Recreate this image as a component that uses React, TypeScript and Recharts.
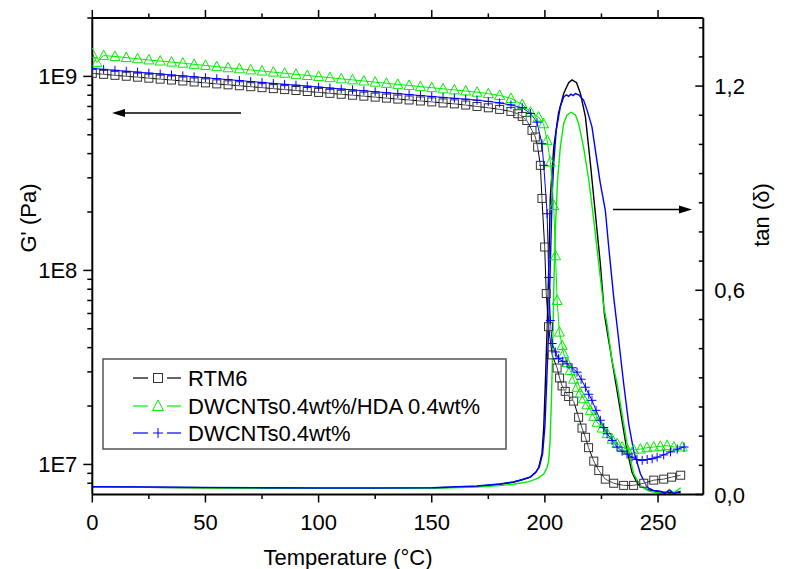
import React from 'react';
import { ComposedChart, Line, XAxis, YAxis } from 'recharts';

const FONT = '"Liberation Sans", Arial, Helvetica, sans-serif';

// ---------- G' (Pa) vs temperature (°C) ----------
const rtm6GT = [0,5,10,15,20,25,30,35,40,45,50,55,60,65,70,75,80,85,90,95,100,105,110,115,120,125,130,135,140,145,150,155,160,165,170,175,180,185,188,190,192,194.3,195.8,196.8,198,198.7,199.9,200.6,201.6,203.2,205.4,206.5,207.6,209,210.5,212.7,214.9,216.4,217.9,219.3,221.6,223.8,226.7,230.4,234.8,239.2,243.7,248.1,252.5,256,260];
const rtm6GV = [1.036e9,1.025e9,1.013e9,1.002e9,9.91e8,9.79e8,9.68e8,9.58e8,9.47e8,9.36e8,9.26e8,9.15e8,9.05e8,8.95e8,8.85e8,8.75e8,8.65e8,8.55e8,8.46e8,8.36e8,8.27e8,8.18e8,8.09e8,8.0e8,7.91e8,7.82e8,7.73e8,7.64e8,7.56e8,7.47e8,7.39e8,7.3e8,7.22e8,7.12e8,7.0e8,6.89e8,6.76e8,6.6e8,6.42e8,6.22e8,5.93e8,5.27e8,4.87e8,4.32e8,3.48e8,2.35e8,1.32e8,7.6e7,5.13e7,3.67e7,3.14e7,2.79e7,2.54e7,2.38e7,2.24e7,2.12e7,1.75e7,1.54e7,1.38e7,1.22e7,1.04e7,9.3e6,8.4e6,8.0e6,7.8e6,7.8e6,8.0e6,8.3e6,8.4e6,8.6e6,8.8e6];

const hdaGT = [0,2,5,10,15,20,25,30,35,40,45,50,55,60,65,70,75,80,85,90,95,100,105,110,115,120,125,130,135,140,145,150,155,160,165,170,175,180,185,190,193.7,197.2,199.4,201,202.4,203.9,204.7,205.4,206.4,207.6,208.3,209.8,211.2,212.7,214.2,215.6,217.1,218.6,220.1,221.6,223.1,225.3,227.5,229.7,231.9,234.1,236.3,239.2,242.2,245.1,248.1,251,254,257,260.7];
const hdaGV = [1.31e9,1.18e9,1.28e9,1.267e9,1.25e9,1.233e9,1.216e9,1.2e9,1.185e9,1.17e9,1.154e9,1.139e9,1.123e9,1.108e9,1.094e9,1.08e9,1.066e9,1.052e9,1.038e9,1.025e9,1.011e9,9.98e8,9.85e8,9.72e8,9.6e8,9.47e8,9.34e8,9.21e8,9.1e8,8.98e8,8.86e8,8.75e8,8.63e8,8.52e8,8.41e8,8.29e8,8.15e8,7.98e8,7.7e8,7.17e8,6.55e8,6.17e8,5.7e8,4.68e8,3.62e8,2.16e8,1.19e8,7.0e7,4.81e7,4.1e7,3.72e7,3.35e7,3.05e7,2.75e7,2.5e7,2.33e7,2.18e7,2.03e7,1.9e7,1.77e7,1.65e7,1.54e7,1.44e7,1.35e7,1.28e7,1.23e7,1.2e7,1.19e7,1.2e7,1.22e7,1.23e7,1.24e7,1.25e7,1.23e7,1.23e7];

const dwGT = [0,5,10,15,20,25,30,35,40,45,50,55,60,65,70,75,80,85,90,95,100,105,110,115,120,125,130,135,140,145,150,155,160,165,170,175,180,185,190,193.6,196.5,198.7,199.5,201,201.7,202.4,203.2,204.6,206,207.9,209.8,212,214.2,216,217.9,219.4,220.8,222.6,224.5,226,227.5,229.7,231.9,234.1,236.3,238.5,240.7,243,245.2,247.4,249.6,252.5,255.5,258.5,261.5];
const dwGV = [1.1e9,1.087e9,1.075e9,1.063e9,1.052e9,1.04e9,1.029e9,1.017e9,1.006e9,9.95e8,9.84e8,9.73e8,9.63e8,9.52e8,9.41e8,9.31e8,9.2e8,9.1e8,9.01e8,8.91e8,8.81e8,8.71e8,8.61e8,8.52e8,8.43e8,8.33e8,8.24e8,8.15e8,8.06e8,7.97e8,7.88e8,7.79e8,7.71e8,7.63e8,7.54e8,7.43e8,7.3e8,7.13e8,6.9e8,6.44e8,5.81e8,4.5e8,3.48e8,1.96e8,9.2e7,5.52e7,4.2e7,3.8e7,3.51e7,3.4e7,3.3e7,3.15e7,2.99e7,2.75e7,2.5e7,2.3e7,2.14e7,1.9e7,1.69e7,1.55e7,1.44e7,1.33e7,1.23e7,1.17e7,1.13e7,1.09e7,1.06e7,1.05e7,1.06e7,1.07e7,1.09e7,1.12e7,1.16e7,1.2e7,1.23e7];

// ---------- tan(delta) vs temperature (°C) ----------
const rtm6TanT = [0,25,50,75,100,125,150,170,180,186,190,193.6,196,197.3,198.7,199.5,200.2,201,201.7,202.4,203.9,206,208.3,210.5,212,214,215.7,217.9,220.1,222.3,224.5,226.3,228,230,233,236,238.5,241,245,250,255,260];
const rtm6TanV = [0.022,0.021,0.02,0.019,0.018,0.018,0.019,0.024,0.03,0.036,0.043,0.051,0.065,0.08,0.12,0.198,0.326,0.49,0.668,0.874,1.02,1.12,1.178,1.21,1.218,1.21,1.178,1.11,0.973,0.826,0.678,0.53,0.46,0.38,0.26,0.14,0.065,0.03,0.015,0.008,0.005,0.006];

const hdaTanT = [0,25,50,75,100,125,150,170,180,186,193,197,199.5,201,201.7,202.3,202.9,203.5,203.9,204.6,205.6,206.8,208.3,209.8,211.6,213.5,214.9,217.1,219.4,221.6,223.8,226,227.5,229.5,231.9,236.3,239.2,242.2,246,250,253,255,257,260];
const hdaTanV = [0.022,0.021,0.02,0.019,0.018,0.018,0.018,0.022,0.026,0.03,0.038,0.048,0.06,0.08,0.1,0.16,0.28,0.45,0.6,0.776,0.924,1.02,1.09,1.115,1.123,1.115,1.09,1.02,0.924,0.806,0.678,0.551,0.5,0.4,0.326,0.149,0.061,0.026,0.01,0.005,0.002,0.015,0.005,0.02];

const dwTanT = [0,25,50,75,100,125,150,170,180,186,190,193.6,196,197.5,199,200,200.8,201.7,202.4,203.2,203.9,205,206.8,208.3,209.5,210.5,211.5,212.5,213.5,215,217.1,218.6,220.8,223,224.5,226.7,228.2,230.4,232,234.8,237,239.2,242.2,245.2,248,251,253,255,257,260];
const dwTanV = [0.023,0.022,0.021,0.02,0.019,0.019,0.02,0.025,0.031,0.037,0.044,0.052,0.066,0.08,0.12,0.2,0.33,0.49,0.678,0.874,0.973,1.07,1.139,1.168,1.174,1.17,1.176,1.172,1.178,1.174,1.159,1.13,1.08,0.98,0.914,0.835,0.727,0.58,0.49,0.326,0.21,0.129,0.061,0.021,0.012,0.01,0.004,0.012,0.003,0.01];

// ---------- axes ----------
const xTicks = [0,25,50,75,100,125,150,175,200,225,250];
const xLabeled = [0,50,100,150,200,250];
const gTicks = [8e6,9e6,1e7,2e7,3e7,4e7,5e7,6e7,7e7,8e7,9e7,1e8,2e8,3e8,4e8,5e8,6e8,7e8,8e8,9e8,1e9,2e9];
const gLabeled: Record<string, string> = { '10000000': '1E7', '100000000': '1E8', '1000000000': '1E9' };
const tanMajor = [0, 0.6, 1.2];
const tanTicks = Array.from({ length: 17 }, (_, k) => (k * 0.6) / 7);

const seriesNames = ['RTM6', 'DWCNTs0.4wt%/HDA 0.4wt%', 'DWCNTs0.4wt%'];

const BLACK = '#000000';
const GREEN = '#00ee00';
const BLUE = '#0000ff';

const toRows = (ts: number[], vs: number[]) => ts.map((T, i) => ({ T, v: vs[i] }));
const rtm6G = toRows(rtm6GT, rtm6GV);
const hdaG = toRows(hdaGT, hdaGV);
const dwG = toRows(dwGT, dwGV);
const rtm6Tan = toRows(rtm6TanT, rtm6TanV);
const hdaTan = toRows(hdaTanT, hdaTanV);
const dwTan = toRows(dwTanT, dwTanV);

const squareDot = (p: any) => (
  <rect key={`sq${p.index}`} x={p.cx - 4} y={p.cy - 4} width={8} height={8} fill="#ffffff" fillOpacity={0.3} stroke="#333" strokeWidth={1} />
);
const triDot = (p: any) => (
  <polygon key={`tr${p.index}`} points={`${p.cx},${p.cy - 5.5} ${p.cx - 5},${p.cy + 4} ${p.cx + 5},${p.cy + 4}`} fill="none" stroke={GREEN} strokeWidth={1} />
);
const plusDot = (p: any) => (
  <path key={`pl${p.index}`} d={`M${p.cx - 4.5},${p.cy}H${p.cx + 4.5}M${p.cx},${p.cy - 4.5}V${p.cy + 4.5}`} stroke={BLUE} strokeWidth={1} fill="none" />
);

const txt = { fontFamily: FONT, fontSize: 22, fill: '#000' } as const;

const XTick = (p: any) => {
  const v = p.payload.value;
  const major = xLabeled.includes(v);
  return (
    <g>
      <line x1={p.x} x2={p.x} y1={p.y} y2={p.y + (major ? 8 : 4.5)} stroke="#000" strokeWidth={1.5} />
      {major && (
        <text x={p.x} y={p.y + 35} textAnchor="middle" {...txt}>{v}</text>
      )}
    </g>
  );
};
const TopTick = (p: any) => {
  const v = p.payload.value;
  const major = xLabeled.includes(v);
  return <line x1={p.x} x2={p.x} y1={p.y} y2={p.y - (major ? 8 : 4.5)} stroke="#000" strokeWidth={1.5} />;
};
const GTick = (p: any) => {
  const v = p.payload.value;
  const lab = gLabeled[String(Math.round(v))];
  return (
    <g>
      <line x1={p.x} x2={p.x - (lab ? 9 : 5)} y1={p.y} y2={p.y} stroke="#000" strokeWidth={1.5} />
      {lab && (
        <text x={p.x - 15} y={p.y + 8} textAnchor="end" {...txt}>{lab}</text>
      )}
    </g>
  );
};
const TanTick = (p: any) => {
  const v = p.payload.value;
  const major = tanMajor.some((m) => Math.abs(m - v) < 1e-6);
  return (
    <g>
      <line x1={p.x} x2={p.x - (major ? 8 : 4.5)} y1={p.y} y2={p.y} stroke="#000" strokeWidth={1.5} />
      {major && (
        <text x={p.x + 11} y={p.y + 8} textAnchor="start" {...txt}>{v.toFixed(1).replace('.', ',')}</text>
      )}
    </g>
  );
};

const LegendRow = ({ y, name, kind, color }: { y: number; name: string; kind: string; color: string }) => (
  <g>
    <line x1={133} x2={148} y1={y} y2={y} stroke={color} strokeWidth={1.2} />
    <line x1={167} x2={181} y1={y} y2={y} stroke={color} strokeWidth={1.2} />
    {kind === 'sq' && <rect x={153.5} y={y - 4.5} width={9} height={9} fill="none" stroke="#333" strokeWidth={1} />}
    {kind === 'tri' && <polygon points={`158,${y - 6} 152.5,${y + 4.5} 163.5,${y + 4.5}`} fill="none" stroke={GREEN} strokeWidth={1} />}
    {kind === 'plus' && <path d={`M153,${y}H163M158,${y - 5}V${y + 5}`} stroke={BLUE} strokeWidth={1} />}
    <text x={188} y={y + 8} {...txt}>{name}</text>
  </g>
);

export default function App() {
  return (
    <div style={{ position: 'fixed', left: 0, top: 0, width: 792, height: 569, background: '#fff' }}>
      <ComposedChart
        width={792}
        height={569}
        margin={{ top: 8, right: 28.7, bottom: 44.5, left: 32.3 }}
        style={{ position: 'absolute', left: 0, top: 0 }}
      >
        <XAxis
          xAxisId={0}
          type="number"
          dataKey="T"
          domain={[0, 270]}
          allowDataOverflow
          ticks={xTicks}
          interval={0}
          height={30}
          tickSize={0}
          tickMargin={0}
          tickLine={false}
          tick={<XTick />}
          axisLine={{ stroke: '#000', strokeWidth: 2 }}
        />
        <XAxis
          xAxisId="top"
          orientation="top"
          type="number"
          dataKey="T"
          domain={[0, 270]}
          allowDataOverflow
          ticks={xTicks}
          interval={0}
          height={10}
          tickSize={0}
          tickMargin={0}
          tickLine={false}
          tick={<TopTick />}
          axisLine={{ stroke: '#000', strokeWidth: 2 }}
        />
        <YAxis
          yAxisId="g"
          orientation="left"
          scale="log"
          type="number"
          domain={[7e6, 2e9]}
          allowDataOverflow
          ticks={gTicks}
          interval={0}
          width={60}
          tickSize={0}
          tickMargin={0}
          tickLine={false}
          tick={<GTick />}
          axisLine={{ stroke: '#000', strokeWidth: 2 }}
        />
        <YAxis
          yAxisId="t"
          orientation="right"
          type="number"
          domain={[0, 1.4]}
          allowDataOverflow
          ticks={tanTicks}
          interval={0}
          width={60}
          tickSize={0}
          tickMargin={0}
          tickLine={false}
          tick={<TanTick />}
          axisLine={{ stroke: '#000', strokeWidth: 2 }}
        />
        <Line data={rtm6Tan} dataKey="v" name={seriesNames[0]} xAxisId={0} yAxisId="t" stroke={BLACK} strokeWidth={1.4} dot={false} isAnimationActive={false} />
        <Line data={hdaTan} dataKey="v" name={seriesNames[1]} xAxisId={0} yAxisId="t" stroke={GREEN} strokeWidth={1.4} dot={false} isAnimationActive={false} />
        <Line data={dwTan} dataKey="v" name={seriesNames[2]} xAxisId={0} yAxisId="t" stroke={BLUE} strokeWidth={1.4} dot={false} isAnimationActive={false} />
        <Line data={rtm6G} dataKey="v" name={seriesNames[0]} xAxisId={0} yAxisId="g" stroke={BLACK} strokeWidth={1} dot={squareDot} isAnimationActive={false} />
        <Line data={hdaG} dataKey="v" name={seriesNames[1]} xAxisId={0} yAxisId="g" stroke={GREEN} strokeWidth={1} dot={triDot} isAnimationActive={false} />
        <Line data={dwG} dataKey="v" name={seriesNames[2]} xAxisId={0} yAxisId="g" stroke={BLUE} strokeWidth={1} dot={plusDot} isAnimationActive={false} />
      </ComposedChart>
      <svg width={792} height={569} style={{ position: 'absolute', left: 0, top: 0, pointerEvents: 'none' }}>
        {/* arrows */}
        <line x1={241} x2={122} y1={113} y2={113} stroke="#000" strokeWidth={1.5} />
        <polygon points="112,113 125,109 125,117" fill="#000" />
        <line x1={613} x2={681} y1={209.5} y2={209.5} stroke="#000" strokeWidth={1.5} />
        <polygon points="692,209.5 679,205.5 679,213.5" fill="#000" />
        {/* axis titles */}
        <text x={348} y={565} textAnchor="middle" {...txt}>Temperature (°C)</text>
        <text transform="translate(36,218) rotate(-90)" textAnchor="middle" {...txt}>G' (Pa)</text>
        <text transform="translate(769,215) rotate(-90)" textAnchor="middle" {...txt}>tan (δ)</text>
        {/* legend */}
        <rect x={103} y={359} width={403} height={90} fill="#fff" stroke="#555" strokeWidth={1.5} />
        <LegendRow y={378} name={seriesNames[0]} kind="sq" color={BLACK} />
        <LegendRow y={406} name={seriesNames[1]} kind="tri" color={GREEN} />
        <LegendRow y={433} name={seriesNames[2]} kind="plus" color={BLUE} />
      </svg>
    </div>
  );
}
